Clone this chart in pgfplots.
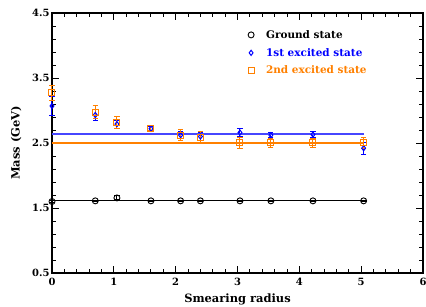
\documentclass[border=0pt]{standalone}
\usepackage{fontspec}
\setmainfont{DejaVu Serif}
\usepackage{pgfplots}
\pgfplotsset{compat=1.18}
\definecolor{myblue}{RGB}{0,0,255}
\definecolor{lineblue}{RGB}{70,70,255}
\definecolor{myorange}{RGB}{255,128,0}
\begin{document}
\begin{tikzpicture}
\begin{axis}[
  scale only axis,
  width=371bp, height=260bp,
  xmin=0, xmax=6, ymin=0.5, ymax=4.5,
  clip=false,
  xtick={0,1,2,3,4,5,6},
  ytick={0.5,1.5,2.5,3.5,4.5},
  yticklabels={0.5,1.5,2.5,3.5,4.5},
  minor x tick num=4, minor y tick num=4,
  tick align=inside,
  major tick length=7bp, minor tick length=4bp,
  tick style={black, line width=0.9bp},
  axis line style={line width=1.2bp},
  /pgf/number format/assume math mode=true,
  tick label style={font=\fontsize{10}{12}\selectfont\bfseries},
  xticklabel style={yshift=-2bp},
  yticklabel style={xshift=1bp},
  xlabel={Smearing radius}, ylabel={Mass (GeV)},
  label style={font=\fontsize{11.5}{13}\selectfont\bfseries},
  xlabel style={yshift=-1bp},
  ylabel style={yshift=4bp},
  legend style={draw=none, fill=none, at={(axis cs:3.12,4.30)}, anchor=north west,
    font=\fontsize{10.5}{12}\selectfont\bfseries, row sep=4.5bp,
    /tikz/every odd column/.append style={column sep=10bp}},
  legend cell align=left,
  error bars/error bar style={line width=1bp},
  error bars/error mark options={rotate=90, mark size=2.6bp, line width=1bp},
]
% Ground state
\addplot[black, only marks, mark=o, mark size=3bp, line width=0.9bp,
  error bars/.cd, y dir=both, y explicit]
  coordinates {
  (0,1.60) +- (0,0.01)
  (0.70,1.61) +- (0,0.01)
  (1.05,1.655) +- (0,0.03)
  (1.60,1.61) +- (0,0.01)
  (2.08,1.61) +- (0,0.01)
  (2.40,1.61) +- (0,0.01)
  (3.04,1.61) +- (0,0.01)
  (3.54,1.61) +- (0,0.01)
  (4.22,1.61) +- (0,0.01)
  (5.04,1.61) +- (0,0.01)
  };
\addlegendentry{Ground state}
% 1st excited
\addplot[myblue, only marks, mark=diamond, mark size=2.6bp, line width=1bp,
  error bars/.cd, y dir=both, y explicit]
  coordinates {
  (0,3.07) +- (0,0.15)
  (0.70,2.93) +- (0,0.085)
  (1.05,2.79) +- (0,0.06)
  (1.60,2.72) +- (0,0.03)
  (2.08,2.62) +- (0,0.05)
  (2.40,2.60) +- (0,0.06)
  (3.04,2.66) +- (0,0.06)
  (3.54,2.62) +- (0,0.04)
  (4.22,2.63) +- (0,0.05)
  (5.04,2.42) +- (0,0.095)
  };
\addlegendentry{\textcolor{myblue}{1st excited state}}
% 2nd excited
\addplot[myorange, only marks, mark=square, mark size=3bp, line width=1bp,
  error bars/.cd, y dir=both, y explicit]
  coordinates {
  (0,3.27) +- (0,0.11)
  (0.70,2.97) +- (0,0.10)
  (1.05,2.81) +- (0,0.09)
  (1.60,2.73) +- (0,0.04)
  (2.08,2.62) +- (0,0.08)
  (2.40,2.58) +- (0,0.09)
  (3.04,2.50) +- (0,0.08)
  (3.54,2.50) +- (0,0.07)
  (4.22,2.50) +- (0,0.07)
  (5.04,2.50) +- (0,0.08)
  };
\addlegendentry{\textcolor{myorange}{2nd excited state}}
% fit lines
\addplot[black, line width=1.1bp, forget plot] coordinates {(0,1.61) (5.04,1.61)};
\addplot[lineblue, line width=1.3bp, forget plot] coordinates {(0,2.64) (5.04,2.64)};
\addplot[myorange, line width=1.1bp, forget plot] coordinates {(0,2.50) (5.04,2.50)};
\end{axis}
\pgfresetboundingbox
\path (-52bp,-34bp) rectangle (374bp,273bp);
\end{tikzpicture}
\end{document}
